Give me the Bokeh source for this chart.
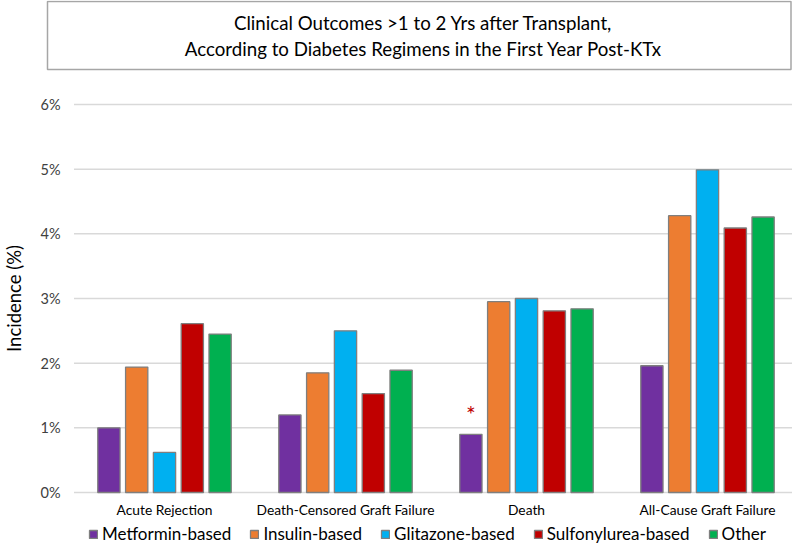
import math
import numpy as np
from bokeh.plotting import figure
from bokeh.models import ColumnDataSource, Range1d, Legend, LegendItem
from bokeh.transform import dodge
from bokeh.core.properties import value
from bokeh.embed import file_html
from bokeh.resources import INLINE

# ---------------- data ----------------
categories = ["Acute Rejection", "Death-Censored Graft Failure", "Death", "All-Cause Graft Failure"]
series_names = ["Metformin-based", "Insulin-based", "Glitazone-based", "Sulfonylurea-based", "Other"]
metformin = [1.00, 1.20, 0.90, 1.96]
insulin = [1.94, 1.85, 2.95, 4.28]
glitazone = [0.62, 2.50, 3.00, 4.99]
sulfonylurea = [2.61, 1.53, 2.81, 4.09]
other = [2.45, 1.89, 2.84, 4.26]
y_ticks = [0, 1, 2, 3, 4, 5, 6]
y_tick_labels = ["%d%%" % t for t in y_ticks]
y_axis_label = "Incidence (%)"
title_lines = ["Clinical Outcomes >1 to 2 Yrs after Transplant,",
               "According to Diabetes Regimens in the First Year Post-KTx"]
marked_category = "Death"  # asterisk over Metformin-based

colors = ["#7030a0", "#ed7d31", "#00b0f0", "#c00000", "#00b050"]
FONT = "Lato"

# ---------------- layout geometry (screen pixels) ----------------
W, H = 792, 544
X0_PX, XS = 73.5, 181.0      # pixel of category-slot start, pixels per category slot
Y0_PX, YS = 492.0, 64.67     # pixel of 0%, pixels per 1%

def dx(px):
    return (px - X0_PX) / XS

def dy(py):
    return (Y0_PX - py) / YS

p = figure(width=W, height=H, x_range=Range1d(dx(0), dx(W)), y_range=Range1d(dy(H), dy(0)),
           x_axis_type=None, y_axis_type=None, output_backend="svg", toolbar_location=None,
           min_border=0)
p.outline_line_color = None
p.background_fill_color = "white"
p.border_fill_color = "white"
p.grid.visible = False

# gridlines (drawn from tick values)
n = len(categories)
p.segment(x0=[0] * len(y_ticks), x1=[n] * len(y_ticks), y0=y_ticks, y1=y_ticks,
          line_color="#d9d9d9", line_width=1.5)

# bars
centers = list(np.arange(n) + 0.5)
src = ColumnDataSource(dict(x=centers, metformin=metformin, insulin=insulin,
                            glitazone=glitazone, sulfonylurea=sulfonylurea, other=other))
keys = ["metformin", "insulin", "glitazone", "sulfonylurea", "other"]
pitch = 0.1536
bw = 0.123
renderers = []
for i, k in enumerate(keys):
    r = p.vbar(x=dodge("x", (i - 2) * pitch), top=k, width=bw, source=src,
               fill_color=colors[i], line_color="#7f7f7f", line_width=1.3)
    renderers.append(r)

# asterisk over Metformin-based bar in "Death"
idx = categories.index(marked_category)
p.text(x=[centers[idx] - 2 * pitch], y=[metformin[idx]], text=["*"],
       text_font=value(FONT), text_font_size="23px", text_color="#c00000",
       text_align="center", text_baseline="middle", y_offset=-20)

# y tick labels
p.text(x=[0] * len(y_ticks), y=y_ticks, text=y_tick_labels, x_offset=-13.5,
       text_font=value(FONT), text_font_size="14.5px", text_color="#404040",
       text_align="right", text_baseline="middle")

# y axis label
p.text(x=[0], y=[(y_ticks[0] + y_ticks[-1]) / 2], text=[y_axis_label], x_offset=-60.5,
       angle=math.pi / 2, text_font=value(FONT), text_font_size="18.5px",
       text_color="#000000", text_align="center", text_baseline="middle")

# category labels
p.text(x=centers, y=[0] * n, text=categories, y_offset=17,
       text_font=value(FONT), text_font_size="13.8px", text_color="#000000",
       text_align="center", text_baseline="middle")

# title box
p.quad(left=[dx(47)], right=[dx(790.5)], top=[dy(1)], bottom=[dy(69)],
       fill_color="white", line_color="#a6a6a6", line_width=1.5)
p.text(x=[dx(423)] * 2, y=[dy(22), dy(48.5)], text=title_lines,
       text_font=value(FONT), text_font_size="18.7px", text_color="#000000",
       text_align="center", text_baseline="middle")

legend = Legend(items=[LegendItem(label=series_names[i], renderers=[renderers[i]]) for i in range(5)],
                orientation="horizontal", location=(88, 0),
                label_text_font=FONT, label_text_font_size="17px", label_text_color="#000000",
                glyph_width=10, glyph_height=10, label_height=18, label_standoff=4,
                spacing=18, padding=0, margin=0, border_line_color=None,
                background_fill_alpha=0)
p.add_layout(legend)

open("out.html", "w").write(file_html(p, INLINE))
